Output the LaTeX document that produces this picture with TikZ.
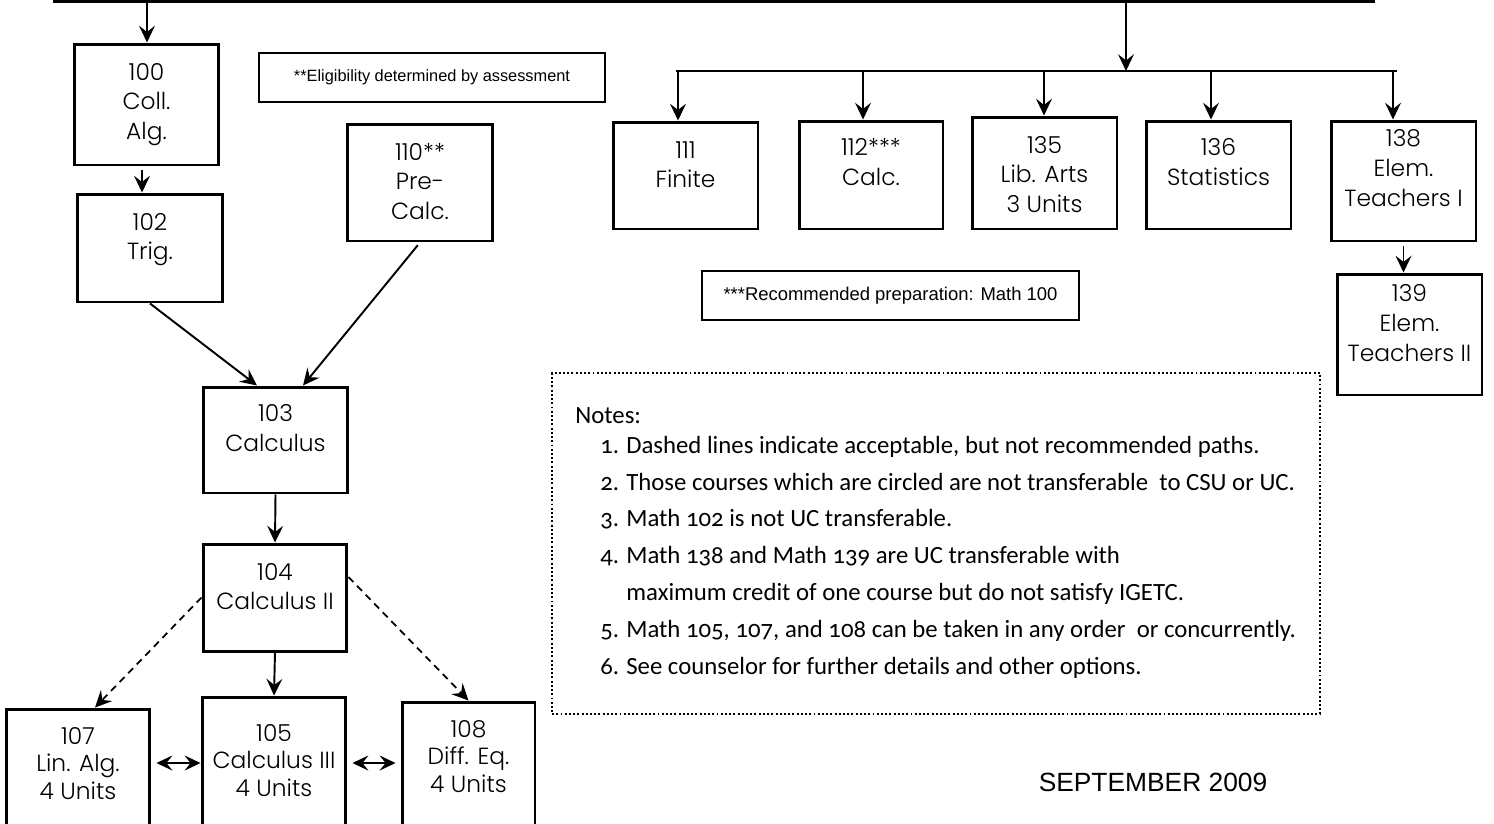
\documentclass[tikz,border=0pt]{standalone}
\usepackage{fontspec}
\usepackage{tikz}
\usetikzlibrary{positioning,arrows.meta}
\IfFontExistsTF{Poppins Light}{\newfontfamily\boxfont{Poppins Light}}{\newfontfamily\boxfont{Poppins}}
\newfontfamily\notefont{Carlito}[Numbers=OldStyle]
\newfontfamily\arialfont{Liberation Sans}
% course box text: width, height, first baseline, lines
\newcommand{\crs}[4]{\parbox[c][#2][t]{#1}{\centering\rule{0pt}{#3}#4}}
\newcommand{\noteitem}[1]{\hspace*{0.5cm}\makebox[0.52cm][l]{#1}}

\begin{document}
\begin{tikzpicture}[x=0.02cm, y=-0.02cm,
    course/.style={draw, line width=1.7pt, inner sep=0pt, font=\boxfont\fontsize{13.3}{17}\selectfont},
    lowcourse/.style={course, font=\boxfont\fontsize{13.3}{15.6}\selectfont},
    remark/.style={draw, line width=1.4pt, inner sep=0pt, font=\arialfont},
    tip/.style={-{Stealth[length=9.5pt,width=9pt,inset=3.5pt]}, line width=1.1pt},
    dtip/.style={{Stealth[length=9pt,width=8.5pt,inset=3.3pt]}-{Stealth[length=9pt,width=8.5pt,inset=3.3pt]}, line width=1.1pt},
    dashtip/.style={tip, line width=1pt, dash pattern=on 4pt off 3pt}]
\useasboundingbox (0,0) rectangle (1494,823);

% left column
\node[course] (c100) at (146.5,104.5) {\crs{2.9cm}{2.42cm}{0.72cm}{100\\Coll.\\Alg.}};
\node[course] (c102) at (150,248) {\crs{2.92cm}{2.16cm}{0.72cm}{102\\Trig.}};
\node[course] (c110) at (420,182.5) {\crs{2.92cm}{2.34cm}{0.72cm}{110**\\Pre-\\Calc.}};
\node[course] (c103) at (275.5,440) {\crs{2.9cm}{2.12cm}{0.69cm}{103\\Calculus}};
\node[course] (c104) at (275,597.5) {\crs{2.88cm}{2.14cm}{0.72cm}{104\\Calculus II}};
\node[lowcourse] (c105) at (274,773.5) {\crs{2.88cm}{3.06cm}{0.89cm}{105\\Calculus III\\4 Units}};
\node[lowcourse] (c107) at (78,779.5) {\crs{2.88cm}{2.82cm}{0.71cm}{107\\Lin. Alg.\\4 Units}};
\node[lowcourse] (c108) at (468.5,776) {\crs{2.66cm}{2.96cm}{0.71cm}{108\\Diff. Eq.\\4 Units}};

% right row
\node[course] (c111) at (685.5,175.5) {\crs{2.9cm}{2.14cm}{0.72cm}{111\\Finite}};
\node[course] (c112) at (871,175) {\crs{2.88cm}{2.16cm}{0.69cm}{112***\\Calc.}};
\node[course] (c135) at (1044.5,173) {\crs{2.9cm}{2.24cm}{0.72cm}{135\\Lib. Arts\\3 Units}};
\node[course] (c136) at (1218.5,175) {\crs{2.9cm}{2.16cm}{0.69cm}{136\\Statistics}};
\node[course] (c138) at (1403.5,181) {\crs{2.9cm}{2.4cm}{0.51cm}{138\\Elem.\\Teachers I}};
\node[course] (c139) at (1409.5,334.5) {\crs{2.9cm}{2.42cm}{0.55cm}{139\\Elem.\\Teachers II}};

% remarks
\node[remark, minimum width=6.92cm, minimum height=0.98cm, font=\arialfont\fontsize{9.3}{11}\selectfont] (elig) at (432,77.5) {**Eligibility determined by assessment};
\node[remark, minimum width=7.54cm, minimum height=0.98cm, font=\arialfont\fontsize{10.5}{12}\selectfont] (rec) at (890.5,295.5) {***Recommended preparation: Math 100};
\node[draw, line width=1.1pt, dash pattern=on 1.1pt off 1.3pt, minimum width=15.36cm, minimum height=6.82cm] (notesbox) at (936,543.5) {};
\node[anchor=north west, inner sep=0pt, align=left, font=\notefont\fontsize{14.1}{21}\selectfont] (notes) at (575,407) {Notes:\\[-4pt]
\noteitem{1.}Dashed lines indicate acceptable, but not recommended paths.\\
\noteitem{2.}Those courses which are circled are not transferable\ \ to CSU or UC.\\
\noteitem{3.}Math 102 is not UC transferable.\\
\noteitem{4.}Math 138 and Math 139 are UC transferable with\\
\hspace*{1.02cm}maximum credit of one course but do not satisfy IGETC.\\
\noteitem{5.}Math 105, 107, and 108 can be taken in any order\ \ or concurrently.\\
\noteitem{6.}See counselor for further details and other options.};
\node[font=\arialfont\fontsize{15}{18}\selectfont, inner sep=0pt] (sept) at (1153,782) {SEPTEMBER 2009};

% top bar and branches
\coordinate (topL) at (53,1.5);
\coordinate (topR) at (1375,1.5);
\draw[line width=1.6pt] (topL) -- (topR);
\coordinate (t100) at (147,1.5);
\draw[tip] (t100) -- (t100 |- c100.north);
\coordinate (tSplit) at (1126,1.5);
\coordinate (bSplit) at (1126,71);
\draw[tip] (tSplit) -- (bSplit);
\coordinate (bL) at (676,71);
\coordinate (bR) at (1397,71);
\draw[line width=1.2pt] (bL) -- (bR);
\foreach \x/\n in {678/c111, 863/c112, 1044/c135, 1211/c136, 1393/c138}{
  \coordinate (b\n) at (\x,71);
  \draw[tip] (b\n) -- (b\n |- \n.north);
}
\draw[tip, shorten <=2pt] (c138.south) -- (c138.south |- c139.north);

% calculus sequence
\coordinate (s100) at ([xshift=-0.09cm]c100.south);
\draw[tip, shorten <=2pt] (s100) -- (s100 |- c102.north);
\draw[tip] (c102.south) -- ([xshift=-0.37cm]c103.north);
\draw[tip, shorten <=2pt] (c110.south) -- ([xshift=0.55cm]c103.north);
\draw[tip] (c103.south) -- (c104.north);
\draw[tip] (c104.south) -- (c105.north);
\draw[dashtip] (c104.west) -- ([xshift=0.34cm]c107.north);
\draw[dashtip] ([yshift=0.41cm]c104.east) -- (c108.north);
\draw[dtip, shorten <=0.1cm] (c107.east |- 0,763) -- (c105.west |- 0,763);
\draw[dtip, shorten <=0.1cm, shorten >=0.1cm] (c105.east |- 0,763) -- (c108.west |- 0,763);
\end{tikzpicture}
\end{document}
